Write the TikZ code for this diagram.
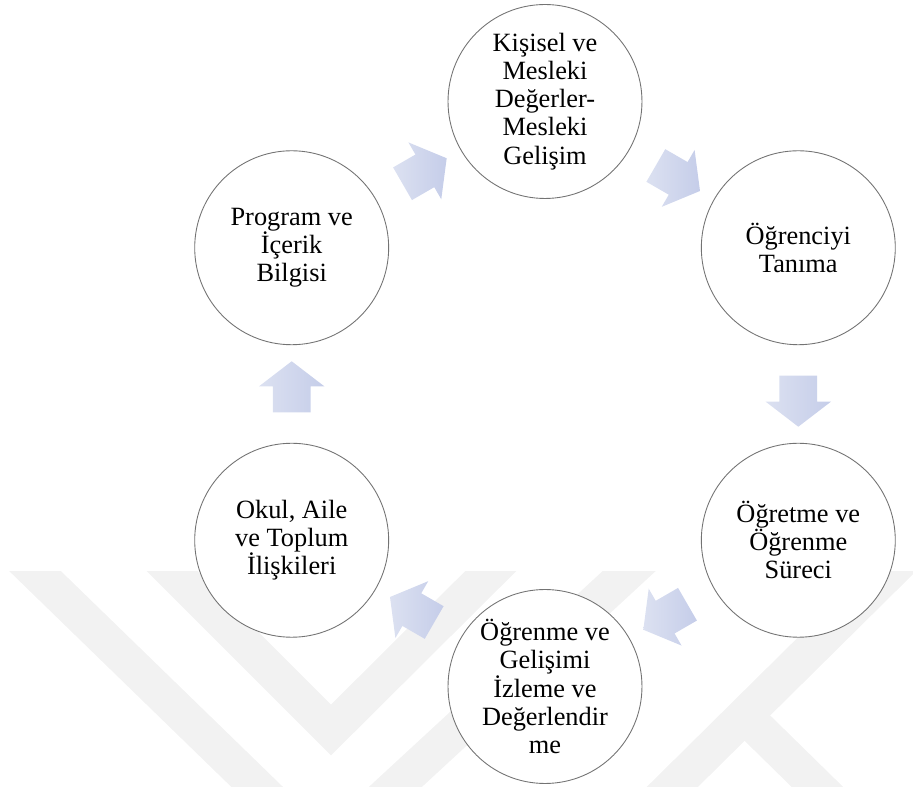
\documentclass[tikz,border=0pt]{standalone}
\usepackage{fontspec}
\setmainfont{Liberation Serif}
\usetikzlibrary{shapes.arrows,calc}
\definecolor{arrowlite}{RGB}{220,225,241}
\definecolor{arrowdark}{RGB}{197,205,233}
\begin{document}
\begin{tikzpicture}[x=0.02cm,y=0.02cm,
  circ/.style={circle,draw=black!55,line width=0.5pt,fill=white,minimum size=3.88cm,inner sep=0pt,align=center,font=\fontsize{15}{16}\selectfont},
  flow/.style={single arrow,draw=none,left color=arrowlite,right color=arrowdark,minimum height=1.02cm,inner xsep=0pt,inner ysep=0.37cm,single arrow head extend=0.28cm,single arrow tip angle=105},
  band/.style={line width=0.72cm,color=black!5}]
\useasboundingbox (-545,-393) rectangle (368,394);
\begin{scope}
\clip (-545,-393) rectangle (368,-178);
\draw[band] (-545,-143) -- (-260,-420);
\draw[band] (-407,-143) -- (-214,-336) -- (-20,-143);
\draw[band] (-180,-421) -- (120,-144);
\draw[band] (100,-420) -- (380,-143);
\draw[band] (199,-321) -- (300,-420);
\end{scope}
\node[circ] (kisisel) at (90:292.5) {Kişisel ve\\Mesleki\\Değerler-\\Mesleki\\Gelişim};
\node[circ] (ogrenci) at (30:292.5) {Öğrenciyi\\Tanıma};
\node[circ] (ogretme) at (-30:292.5) {Öğretme ve\\Öğrenme\\Süreci};
\node[circ] (izleme) at (-90:292.5) {Öğrenme ve\\Gelişimi\\İzleme ve\\Değerlendir\\me};
\node[circ] (okul) at (-150:292.5) {Okul, Aile\\ve Toplum\\İlişkileri};
\node[circ] (program) at (150:292.5) {Program ve\\İçerik\\Bilgisi};
\node[flow,rotate=30] (a1) at ($(program)!0.5!(kisisel)$) {};
\node[flow,rotate=-30] (a2) at ($(kisisel)!0.5!(ogrenci)$) {};
\node[flow,rotate=-90] (a3) at ($(ogrenci)!0.5!(ogretme)$) {};
\node[flow,rotate=-150] (a4) at ($(ogretme)!0.5!(izleme)$) {};
\node[flow,rotate=150] (a5) at ($(izleme)!0.5!(okul)$) {};
\node[flow,rotate=90] (a6) at ($(okul)!0.5!(program)$) {};
\end{tikzpicture}
\end{document}
